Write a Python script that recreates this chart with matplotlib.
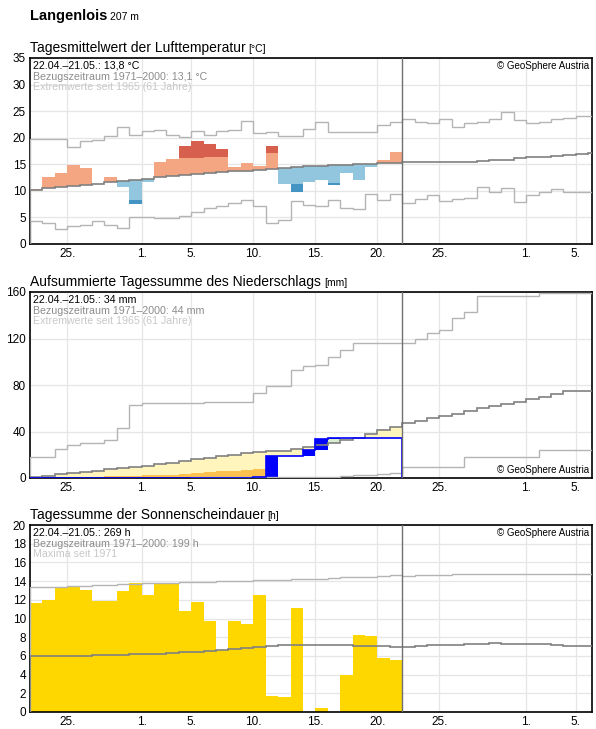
import numpy as np
import matplotlib
matplotlib.use("Agg")
import matplotlib.pyplot as plt

plt.rcParams['font.family'] = ['Liberation Sans', 'DejaVu Sans']

# day 0 = 22.04., 46 days shown, observations for the first 30
tick_days = [3, 9, 13, 18, 23, 28, 33, 40, 44]
tick_labels = ["25.", "1.", "5.", "10.", "15.", "20.", "25.", "1.", "5."]

# --- temperature (°C)
temp_obs = [10.3, 12.6, 13.3, 14.8, 14.3, 11.3, 12.6, 10.8, 7.5, 11.6,
            15.5, 16.0, 18.5, 19.4, 18.9, 17.9, 14.4, 15.3, 14.7, 18.5,
            11.2, 9.8, 11.7, 12.1, 11.1, 13.3, 12.1, 14.4, 15.8, 17.4]
temp_extreme_from = [None] * 8 + [8.2] + [None] * 3 + [16.2, 16.2, 16.4, 16.4] + [None] * 3 + [17.2] + \
    [None, 11.2, None, None, 11.5] + [None] * 5
temp_clim = [10.2, 10.5, 10.7, 10.9, 11.1, 11.3, 11.6, 11.8, 12.1, 12.3,
             12.6, 12.8, 12.9, 13.1, 13.3, 13.5, 13.7, 13.8, 14.0, 14.2,
             14.3, 14.5, 14.6, 14.7, 14.8, 14.9, 15.0, 15.1, 15.2, 15.3,
             15.4, 15.4, 15.4, 15.4, 15.4, 15.5, 15.6, 15.8, 15.9, 16.1,
             16.3, 16.4, 16.6, 16.8, 17.0, 17.1]
temp_max = [19.7, 19.8, 19.8, 18.2, 19.4, 19.6, 20.4, 22.1, 20.6, 21.3,
            21.5, 20.6, 20.1, 21.3, 20.6, 21.3, 21.5, 23.1, 20.9, 21.0,
            20.3, 20.3, 21.6, 23.0, 21.0, 21.0, 21.0, 21.0, 22.3, 23.0,
            23.5, 23.0, 22.8, 23.5, 22.0, 22.7, 22.9, 23.6, 24.8, 23.4,
            22.7, 23.0, 23.5, 23.8, 24.0, 24.0]
temp_min = [4.3, 4.0, 2.9, 3.3, 3.5, 4.3, 3.5, 3.1, 5.0, 5.0,
            4.8, 4.8, 5.3, 6.0, 6.7, 7.2, 7.7, 8.3, 7.2, 3.9,
            4.5, 8.1, 7.4, 7.2, 8.3, 6.7, 6.5, 9.4, 8.2, 9.4,
            7.7, 8.5, 9.3, 8.1, 8.4, 8.7, 10.8, 9.8, 10.6, 7.9,
            9.3, 9.7, 10.3, 9.8, 9.8, 9.8]

# --- precipitation, cumulative (mm)
prec_obs = [0] * 18 + [0.5, 18.5, 18.5, 18.5, 24.0, 33.5, 34, 34, 34, 34, 34, 34]
prec_clim = [0.6, 1.7, 3.2, 4.0, 5.2, 6.3, 7.5, 8.6, 9.7, 10.6,
             11.8, 13.2, 14.6, 16.1, 17.5, 18.6, 19.8, 21.2, 22.4, 23.0,
             23.5, 24.9, 26.4, 28.1, 29.8, 32.7, 34.7, 37.6, 41.3, 44.2,
             47.6, 49.3, 51.3, 53.3, 55.0, 57.9, 59.9, 62.2, 63.9, 65.6,
             68.0, 70.0, 72.3, 74.9, 74.9, 74.9]
prec_low = [0.2, 0.4, 0.6, 0.8, 1.0, 1.2, 1.4, 1.6, 2.0, 2.3,
            2.6, 3.0, 3.5, 4.0, 4.9, 5.7, 5.7, 6.6, 7.7]
prec_max = [17.8, 18.4, 24.7, 28.4, 30.4, 30.4, 32.7, 42.7, 62.5, 64.2,
            64.8, 64.8, 64.8, 64.8, 65.7, 65.7, 65.7, 65.7, 72.8, 79.1,
            79.1, 92.9, 96.3, 97.2, 104.4, 110.1, 115.8, 115.8, 115.8, 115.8,
            115.9, 119.6, 124.4, 127.3, 137.4, 143.1, 156.3, 156.3, 156.3, 156.3,
            156.3, 158.9, 159.5, 159.5, 159.5, 159.5]
prec_min = [0] * 13 + [0.5] * 12 + [2.0, 2.5, 3.0, 3.5, 4.0] + \
    [9.2] * 5 + [17.8] * 6 + [24.1] * 5

# --- sunshine (h)
sun_obs = [11.7, 12.0, 13.4, 13.5, 13.0, 11.9, 11.9, 12.9, 13.85, 12.5,
           13.8, 13.7, 10.85, 11.8, 9.7, 6.6, 9.7, 9.4, 12.5, 1.7,
           1.6, 11.1, 0.0, 0.45, 0.0, 4.0, 8.2, 8.1, 5.8, 5.6]
sun_clim = [6.0, 6.0, 6.0, 6.0, 6.0, 6.1, 6.1, 6.1, 6.2, 6.2,
            6.25, 6.3, 6.4, 6.45, 6.55, 6.65, 6.75, 6.85, 7.0, 7.1,
            7.2, 7.2, 7.2, 7.2, 7.2, 7.2, 7.1, 7.1, 7.1, 7.0,
            7.0, 7.1, 7.2, 7.2, 7.2, 7.3, 7.3, 7.35, 7.25, 7.25,
            7.25, 7.25, 7.2, 7.1, 7.1, 7.1]
sun_max = [13.4, 13.4, 13.4, 13.5, 13.5, 13.6, 13.6, 13.7, 13.7, 13.8,
           13.85, 13.85, 13.9, 13.9, 13.95, 14.0, 14.0, 14.05, 14.1, 14.1,
           14.15, 14.2, 14.2, 14.25, 14.3, 14.4, 14.4, 14.45, 14.5, 14.6,
           14.5, 14.6, 14.6, 14.6, 14.75, 14.75, 14.75, 14.75, 14.75, 14.75,
           14.75, 14.75, 14.75, 14.75, 14.75, 14.75]

GRID = "#e6e6e6"
MAXC = "#b4b4b4"
CLIMC = "#808080"
XMAX = 45.3

fig = plt.figure(figsize=(5.96, 7.29), dpi=100)
renderer = fig.canvas.get_renderer()


def text_pair(y, big, small, size_big, weight="normal"):
    t = fig.text(30 / 596, y, big, fontsize=size_big, fontweight=weight, va="baseline")
    bb = t.get_window_extent(renderer)
    fig.text((bb.x1 + 3) / 596, y, small, fontsize=7.5, va="baseline")


text_pair(1 - 20 / 729, "Langenlois", "207 m", 10.5, "bold")


def style(ax, yticks, ylim):
    ax.set_xlim(0, XMAX)
    ax.set_ylim(*ylim)
    ax.set_yticks(yticks)
    ax.set_xticks(tick_days)
    ax.set_xticklabels(tick_labels)
    ax.grid(True, color=GRID, lw=0.9)
    ax.set_axisbelow(True)
    ax.tick_params(length=0, labelsize=8.5, pad=3)
    for s in ax.spines.values():
        s.set_linewidth(1.2)
    ax.axvline(30, color="#707070", lw=1.0, zorder=6)


def info(ax, lines):
    colors = ["black", "#8c8c8c", "#c8c8c8"]
    for k, (t, c) in enumerate(zip(lines, colors)):
        ax.text(0.006, 0.985 - k * 0.058, t, transform=ax.transAxes, fontsize=7.7,
                color=c, va="top", ha="left", zorder=7)


edges = np.arange(47)
days = np.arange(30)

# ---------- temperature
ax1 = fig.add_axes([30 / 596, 1 - 244 / 729, 562 / 596, 186 / 729])
for i in days:
    c = temp_clim[i]
    v = temp_obs[i]
    col = "#f4a582" if v >= c else "#92c5de"
    ax1.bar(i, v - c, bottom=c, width=1, align="edge", color=col, lw=0, zorder=2)
    e = temp_extreme_from[i]
    if e is not None:
        col = "#d6604d" if v > c else "#4393c3"
        ax1.bar(i, v - e, bottom=e, width=1, align="edge", color=col, lw=0, zorder=3)
ax1.stairs(temp_max, edges, color=MAXC, lw=1.0, zorder=4)
ax1.stairs(temp_min, edges, color=MAXC, lw=1.0, zorder=4)
ax1.stairs(temp_clim, edges, color=CLIMC, lw=1.2, zorder=5)
style(ax1, range(0, 36, 5), (0, 35))
info(ax1, ["22.04.–21.05.: 13,8 °C", "Bezugszeitraum 1971–2000: 13,1 °C", "Extremwerte seit 1965 (61 Jahre)"])
ax1.text(0.994, 0.985, "© GeoSphere Austria", transform=ax1.transAxes, fontsize=7, ha="right", va="top")
text_pair(1 - 52 / 729, "Tagesmittelwert der Lufttemperatur", "[°C]", 10)

# ---------- precipitation
ax2 = fig.add_axes([30 / 596, 1 - 478 / 729, 562 / 596, 186 / 729])
prev = [0] + prec_obs[:-1]
for i in days:
    c = prec_clim[i]
    v = prec_obs[i]
    if c > v:
        ax2.bar(i, c - v, bottom=v, width=1, align="edge", color="#fff5bd", lw=0, zorder=1)
    elif v > c:
        ax2.bar(i, v - c, bottom=c, width=1, align="edge", color="#d8ecd0", lw=0, zorder=1)
    if v > prev[i]:
        ax2.bar(i, v - prev[i], bottom=prev[i], width=1, align="edge", color="#0000ff", lw=0, zorder=3)
ax2.bar(np.arange(len(prec_low)), prec_low, width=1, align="edge", color="#fdc150", lw=0, zorder=2)
ax2.stairs(prec_obs, np.arange(31), color="#0000ff", lw=1.2, zorder=5)
ax2.stairs(prec_max, edges, color=MAXC, lw=1.0, zorder=4)
ax2.stairs(prec_min, edges, color=MAXC, lw=1.0, zorder=4)
ax2.stairs(prec_clim, edges, color=CLIMC, lw=1.2, zorder=4)
style(ax2, [0, 40, 80, 120, 160], (0, 160))
info(ax2, ["22.04.–21.05.: 34 mm", "Bezugszeitraum 1971–2000: 44 mm", "Extremwerte seit 1965 (61 Jahre)"])
ax2.text(0.994, 0.015, "© GeoSphere Austria", transform=ax2.transAxes, fontsize=7, ha="right", va="bottom")
text_pair(1 - 286 / 729, "Aufsummierte Tagessumme des Niederschlags", "[mm]", 10)

# ---------- sunshine
ax3 = fig.add_axes([30 / 596, 1 - 712 / 729, 562 / 596, 187 / 729])
ax3.bar(days, sun_obs, width=1, align="edge", color="#ffd700", lw=0, zorder=2)
ax3.stairs(sun_max, edges, color=MAXC, lw=1.0, zorder=4)
ax3.stairs(sun_clim, edges, color=CLIMC, lw=1.2, zorder=4)
style(ax3, range(0, 21, 2), (0, 20))
info(ax3, ["22.04.–21.05.: 269 h", "Bezugszeitraum 1971–2000: 199 h", "Maxima seit 1971"])
ax3.text(0.994, 0.985, "© GeoSphere Austria", transform=ax3.transAxes, fontsize=7, ha="right", va="top")
text_pair(1 - 519 / 729, "Tagessumme der Sonnenscheindauer", "[h]", 10)

fig.savefig("out.png", dpi=100)
